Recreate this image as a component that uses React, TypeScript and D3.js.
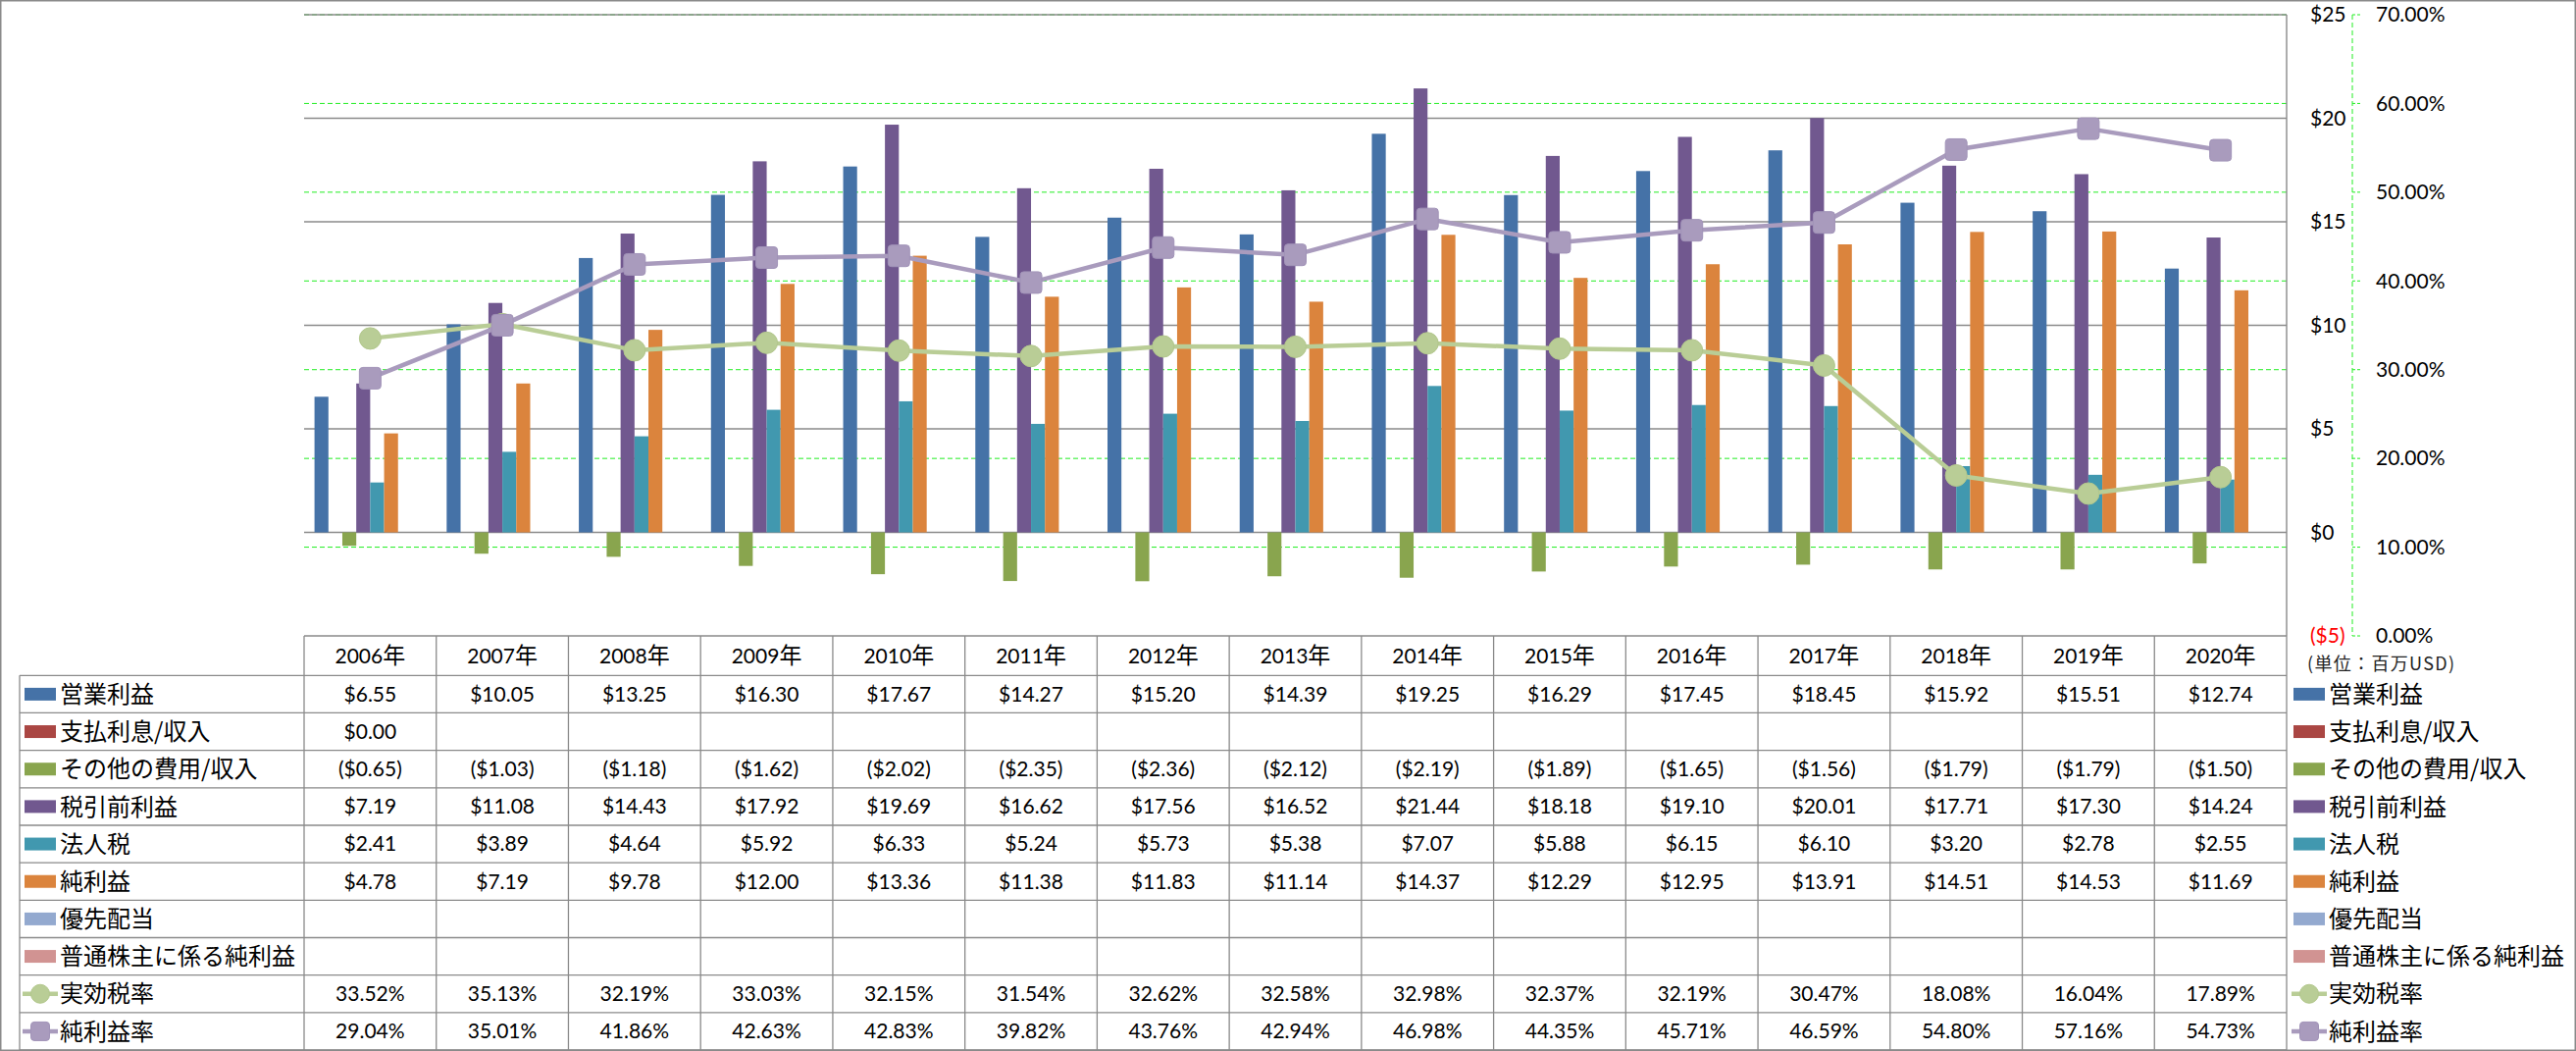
import React from 'react';
import * as d3 from 'd3';

const years = ['2006', '2007', '2008', '2009', '2010', '2011', '2012', '2013', '2014', '2015', '2016', '2017', '2018', '2019', '2020'];

const operatingIncome = [6.55, 10.05, 13.25, 16.3, 17.67, 14.27, 15.2, 14.39, 19.25, 16.29, 17.45, 18.45, 15.92, 15.51, 12.74];
const interestExpense: (number | null)[] = [0.0, null, null, null, null, null, null, null, null, null, null, null, null, null, null];
const otherExpense = [-0.65, -1.03, -1.18, -1.62, -2.02, -2.35, -2.36, -2.12, -2.19, -1.89, -1.65, -1.56, -1.79, -1.79, -1.5];
const pretaxIncome = [7.19, 11.08, 14.43, 17.92, 19.69, 16.62, 17.56, 16.52, 21.44, 18.18, 19.1, 20.01, 17.71, 17.3, 14.24];
const incomeTax = [2.41, 3.89, 4.64, 5.92, 6.33, 5.24, 5.73, 5.38, 7.07, 5.88, 6.15, 6.1, 3.2, 2.78, 2.55];
const netIncome = [4.78, 7.19, 9.78, 12.0, 13.36, 11.38, 11.83, 11.14, 14.37, 12.29, 12.95, 13.91, 14.51, 14.53, 11.69];
const preferredDividends: (number | null)[] = years.map(() => null);
const netIncomeCommon: (number | null)[] = years.map(() => null);
const effectiveTaxRate = [33.52, 35.13, 32.19, 33.03, 32.15, 31.54, 32.62, 32.58, 32.98, 32.37, 32.19, 30.47, 18.08, 16.04, 17.89];
const netMargin = [29.04, 35.01, 41.86, 42.63, 42.83, 39.82, 43.76, 42.94, 46.98, 44.35, 45.71, 46.59, 54.8, 57.16, 54.73];

const dollarTicks = [-5, 0, 5, 10, 15, 20, 25];
const percentTicks = [0, 0.1, 0.2, 0.3, 0.4, 0.5, 0.6, 0.7];
const unitLabel = '(単位：百万USD)';

const barSeries = [
  { name: '営業利益', values: operatingIncome as (number | null)[], color: '#4572A7' },
  { name: '支払利息/収入', values: interestExpense, color: '#AA4643' },
  { name: 'その他の費用/収入', values: otherExpense as (number | null)[], color: '#89A54E' },
  { name: '税引前利益', values: pretaxIncome as (number | null)[], color: '#71588F' },
  { name: '法人税', values: incomeTax as (number | null)[], color: '#4198AF' },
  { name: '純利益', values: netIncome as (number | null)[], color: '#DB843D' },
  { name: '優先配当', values: preferredDividends, color: '#93A9CF' },
  { name: '普通株主に係る純利益', values: netIncomeCommon, color: '#D19392' },
];
const lineSeries = [
  { name: '実効税率', values: effectiveTaxRate, color: '#B9CD96', marker: 'circle' },
  { name: '純利益率', values: netMargin, color: '#A99BBD', marker: 'square' },
];

const LAT = "Lato, 'Noto Sans CJK JP', sans-serif";
const CJK = "'Noto Sans CJK JP', sans-serif";
const GRID = '#8a8a8a';
const GREEN = '#22ee22';

function fmtDollar(v: number | null) {
  if (v === null || v === undefined) return '';
  return v < 0 ? `($${Math.abs(v).toFixed(2)})` : `$${v.toFixed(2)}`;
}
function fmtPct(v: number) {
  return `${v.toFixed(2)}%`;
}

function Marker({ kind, cx, cy, color, size }: { kind: string; cx: number; cy: number; color: string; size: number }) {
  if (kind === 'circle') {
    return <circle cx={cx} cy={cy} r={size / 2} fill={color} stroke="#B2C78C" strokeWidth={1} />;
  }
  return (
    <rect x={cx - size / 2} y={cy - size / 2} width={size} height={size} rx={3.5} fill={color} stroke="#A193B8" strokeWidth={1} />
  );
}

export default function App() {
  const W = 2626;
  const H = 1071;
  const plot = { left: 310, right: 2331, top: 15, bottom: 648 };
  const x0 = d3.scaleBand<string>().domain(years).range([plot.left, plot.right]);
  const bw = x0.bandwidth();
  const x1 = d3.scaleBand<string>().domain(barSeries.map((s) => s.name)).range([10.6, bw - 10.6]);
  const y = d3.scaleLinear().domain([-5, 25]).range([plot.bottom, plot.top]);
  const yp = d3.scaleLinear().domain([0, 0.7]).range([plot.bottom, plot.top]);

  const headerTop = 648;
  const headerBottom = 688.3;
  const tableBottom = 1070;
  const labelLeft = 20;
  const rowH = (tableBottom - headerBottom) / 10;
  const rowCenter = (i: number) => headerBottom + rowH * i + rowH / 2;

  const rows = [
    ...barSeries.map((s) => ({ name: s.name, color: s.color, kind: 'bar', texts: s.values.map(fmtDollar) })),
    ...lineSeries.map((s) => ({ name: s.name, color: s.color, kind: s.marker, texts: s.values.map(fmtPct) })),
  ];

  const cx = (yr: string) => (x0(yr) as number) + bw / 2;

  const legendSwatch = (kind: string, color: string, xl: number, cy: number) => {
    if (kind === 'bar') return <rect x={xl} y={cy - 6.5} width={32} height={13} fill={color} />;
    return (
      <g>
        <line x1={xl - 2} x2={xl + 34} y1={cy} y2={cy} stroke={color} strokeWidth={4.5} />
        <Marker kind={kind} cx={xl + 16} cy={cy} color={color} size={19} />
      </g>
    );
  };

  return (
    <svg width={W} height={H} style={{ position: 'absolute', left: 0, top: 0, background: '#fff' }}>
      <rect x={0} y={0} width={W} height={H} fill="#fff" />
      {/* percent gridlines (green dashed) */}
      {percentTicks.slice(1).map((t) => (
        <line key={'pg' + t} x1={plot.left} x2={plot.right} y1={yp(t)} y2={yp(t)} stroke={GREEN} strokeWidth={1} strokeDasharray="5,3" />
      ))}
      {/* dollar gridlines (gray) */}
      {dollarTicks.slice(1).map((t) => (
        <line key={'dg' + t} x1={plot.left} x2={plot.right} y1={y(t)} y2={y(t)} stroke={GRID} strokeWidth={1.4} />
      ))}
      {/* right dollar axis line */}
      <line x1={plot.right} x2={plot.right} y1={plot.top} y2={plot.bottom} stroke={GRID} strokeWidth={1.4} />

      {/* bars */}
      {barSeries.map((s) =>
        s.values.map((v, i) => {
          if (v === null || v === 0) return null;
          const yr = years[i];
          const xx = (x0(yr) as number) + (x1(s.name) as number);
          const y1 = y(Math.max(0, v));
          const y2 = y(Math.min(0, v));
          return <rect key={s.name + yr} x={xx} y={y1} width={x1.bandwidth()} height={y2 - y1} fill={s.color} />;
        })
      )}

      {/* lines */}
      {lineSeries.map((s) => {
        const gen = d3
          .line<number>()
          .x((_, i) => cx(years[i]))
          .y((v) => yp(v / 100));
        return (
          <g key={s.name}>
            <path d={gen(s.values) as string} fill="none" stroke={s.color} strokeWidth={4.5} strokeLinejoin="round" />
            {s.values.map((v, i) => (
              <Marker key={i} kind={s.marker} cx={cx(years[i])} cy={yp(v / 100)} color={s.color} size={22} />
            ))}
          </g>
        );
      })}

      {/* dollar axis labels */}
      {dollarTicks.map((t) => (
        <text key={'dl' + t} x={2355} y={y(t)} dy="0.35em" fontFamily={LAT} fontSize={21} fill={t < 0 ? '#FF0000' : '#000'}>
          {t < 0 ? `($${Math.abs(t)})` : `$${t}`}
        </text>
      ))}
      {/* percent axis */}
      <line x1={2398} x2={2398} y1={plot.top} y2={plot.bottom} stroke={GREEN} strokeWidth={1} strokeDasharray="5,3" />
      {percentTicks.map((t) => (
        <g key={'pl' + t}>
          <line x1={2398} x2={2406} y1={yp(t)} y2={yp(t)} stroke={GREEN} strokeWidth={1} strokeDasharray="3,2" />
          <text x={2422} y={yp(t)} dy="0.35em" fontFamily={LAT} fontSize={21} fill="#000">
            {(t * 100).toFixed(2) + '%'}
          </text>
        </g>
      ))}
      <text x={2352} y={677} dy="0.36em" fontFamily={CJK} fontSize={18} fill="#222" textLength={150} lengthAdjust="spacing">
        {unitLabel}
      </text>

      {/* table */}
      <g stroke={GRID} strokeWidth={1.3}>
        <line x1={plot.left} x2={plot.right} y1={headerTop} y2={headerTop} />
        {d3.range(11).map((i) => (
          <line key={'hr' + i} x1={labelLeft} x2={plot.right} y1={headerBottom + rowH * i} y2={headerBottom + rowH * i} />
        ))}
        <line x1={labelLeft} x2={labelLeft} y1={headerBottom} y2={tableBottom} />
        {years.map((yr) => (
          <line key={'vc' + yr} x1={x0(yr) as number} x2={x0(yr) as number} y1={headerTop} y2={tableBottom} />
        ))}
        <line x1={plot.right} x2={plot.right} y1={headerTop} y2={tableBottom} />
      </g>
      {years.map((yr) => (
        <text key={'yh' + yr} x={cx(yr)} y={668.5} dy="0.35em" textAnchor="middle" fontFamily={LAT} fontSize={21} fill="#000">
          <tspan>{yr}</tspan>
          <tspan fontFamily={CJK} fontSize={23}>年</tspan>
        </text>
      ))}
      {rows.map((r, ri) => (
        <g key={'row' + r.name}>
          {legendSwatch(r.kind, r.color, 25, rowCenter(ri))}
          <text x={61} y={rowCenter(ri)} dy="0.36em" fontFamily={CJK} fontSize={24} fill="#000">
            {r.name}
          </text>
          {r.texts.map((t, i) => (
            <text key={i} x={cx(years[i])} y={rowCenter(ri)} dy="0.35em" textAnchor="middle" fontFamily={LAT} fontSize={21} fill="#000">
              {t}
            </text>
          ))}
          {legendSwatch(r.kind, r.color, 2338, rowCenter(ri))}
          <text x={2374} y={rowCenter(ri)} dy="0.36em" fontFamily={CJK} fontSize={24} fill="#000">
            {r.name}
          </text>
        </g>
      ))}
      {/* outer border */}
      <rect x={0.75} y={0.75} width={W - 1.5} height={H - 1.5} fill="none" stroke={GRID} strokeWidth={1.5} />
    </svg>
  );
}
